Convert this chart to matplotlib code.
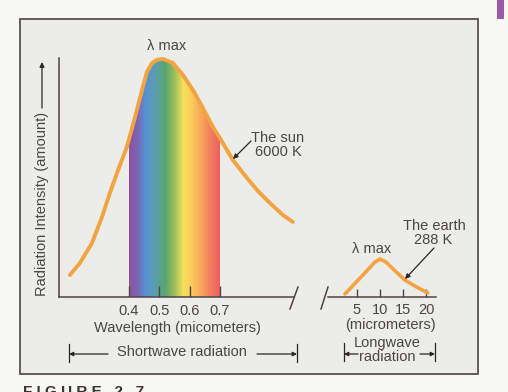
import numpy as np
import matplotlib
matplotlib.use("Agg")
import matplotlib.pyplot as plt
from matplotlib.colors import LinearSegmentedColormap
from matplotlib.lines import Line2D
from matplotlib.patches import Rectangle

plt.rcParams['font.family'] = ['Liberation Sans', 'DejaVu Sans']

# sun curve (wavelength in micrometers, relative intensity)
sun_wl = [0.205, 0.238, 0.278, 0.311, 0.337, 0.364, 0.393, 0.420, 0.443, 0.459,
          0.476, 0.492, 0.512, 0.545, 0.578, 0.611, 0.644, 0.677, 0.700, 0.743,
          0.776, 0.822, 0.865, 0.908, 0.941]
sun_int = [9.2, 14.2, 22.6, 33.5, 43.5, 53.1, 62.8, 75.3, 86.6, 94.1,
           97.9, 99.2, 99.6, 97.9, 92.9, 86.6, 79.1, 71.1, 66.5, 57.3,
           51.9, 44.8, 39.3, 34.3, 31.4]

# earth curve (micrometers)
earth_wl = [2.4, 6.1, 8.9, 10.0, 11.3, 13.3, 15.4, 18.3, 20.4]
earth_int = [1.3, 8.8, 14.6, 15.9, 14.6, 10.9, 7.1, 3.8, 1.7]

short_ticks = [0.4, 0.5, 0.6, 0.7]
short_labels = ['0.4', '0.5', '0.6', '0.7']
long_ticks = [5, 10, 15, 20]
long_labels = ['5', '10', '15', '20']
visible_band = (0.4, 0.7)

W, H = 508, 392
def fx(px):
    return px / W
def fy(py):
    return 1 - py / H

txt_col = '#4a4646'
line_col = '#4e4446'
curve_col = '#f2a443'

fig = plt.figure(figsize=(W / 100, H / 100), dpi=100, facecolor='#f7f8f5')

# frame of the figure
fig.add_artist(Rectangle((fx(20), fy(374)), fx(478) - fx(20), fy(19) - fy(374),
                         transform=fig.transFigure, facecolor='#ecece8',
                         edgecolor='#5a5054', lw=1.3, zorder=-10))
fig.add_artist(Rectangle((fx(497), fy(19)), fx(504) - fx(497), fy(0) - fy(19),
                         transform=fig.transFigure, facecolor='#9b5aa8', lw=0,
                         zorder=-10))

# main (shortwave) axes
ax = fig.add_axes([fx(59), fy(297), fx(294) - fx(59), fy(58) - fy(297)])
ax.set_facecolor('none')
ax.set_xlim(0.169, 0.9446)
ax.set_ylim(0, 100)

spec = LinearSegmentedColormap.from_list('spec', [
    (0.00, '#94509a'), (0.08, '#7e62b4'), (0.18, '#5a90d0'), (0.28, '#5a9eb4'),
    (0.40, '#5aa56e'), (0.50, '#9bbe5a'), (0.60, '#f5e15a'), (0.70, '#fac85a'),
    (0.80, '#f8a55a'), (0.90, '#f27d5f'), (1.00, '#ee5f5f')])
poly = ax.fill_between(sun_wl, sun_int, 0, color='none', lw=0)
grad = np.linspace(0, 1, 256).reshape(1, -1)
im = ax.imshow(grad, cmap=spec, aspect='auto', origin='lower',
               extent=[visible_band[0], visible_band[1], 0, 100], zorder=1)
im.set_clip_path(poly.get_paths()[0], transform=ax.transData)

ax.plot(sun_wl, sun_int, color=curve_col, lw=2.8, solid_capstyle='round',
        solid_joinstyle='round', clip_on=False, zorder=3)

for s in ['top', 'right']:
    ax.spines[s].set_visible(False)
for s in ['left', 'bottom']:
    ax.spines[s].set_color(line_col)
    ax.spines[s].set_linewidth(1.1)
ax.set_yticks([])
ax.set_xticks(short_ticks)
ax.set_xticklabels(short_labels)
ax.tick_params(axis='x', direction='in', length=8, width=1, color=line_col,
               labelsize=10.5, labelcolor=txt_col, pad=5)

# longwave axes
ax2 = fig.add_axes([fx(328), fy(297), fx(436) - fx(328), fy(58) - fy(297)])
ax2.set_facecolor('none')
ax2.set_xlim(-1.3, 22.17)
ax2.set_ylim(0, 100)
ax2.plot(earth_wl, earth_int, color=curve_col, lw=2.6, solid_capstyle='round',
         solid_joinstyle='round', clip_on=False, zorder=3)
for s in ['top', 'right', 'left']:
    ax2.spines[s].set_visible(False)
ax2.spines['bottom'].set_color(line_col)
ax2.spines['bottom'].set_linewidth(1.1)
ax2.set_yticks([])
ax2.set_xticks(long_ticks)
ax2.set_xticklabels(long_labels)
ax2.tick_params(axis='x', direction='in', length=6, width=1, color=line_col,
                labelsize=10.5, labelcolor=txt_col, pad=4)

# axis break marks
for x0, x1 in [(298, 290), (328, 321)]:
    fig.add_artist(Line2D([fx(x0), fx(x1)], [fy(287), fy(309)],
                          transform=fig.transFigure, color=line_col, lw=1.1))

def ftext(x, y, s, **kw):
    kw.setdefault('fontsize', 10.5)
    kw.setdefault('color', txt_col)
    kw.setdefault('ha', 'center')
    kw.setdefault('va', 'center')
    fig.text(fx(x), fy(y), s, **kw)

def farrow(x0, y0, x1, y1, style='-|>', lw=0.9, ms=8):
    fig.add_artist(matplotlib.patches.FancyArrowPatch(
        (fx(x0), fy(y0)), (fx(x1), fy(y1)), transform=fig.transFigure,
        arrowstyle=style, mutation_scale=ms, color='#2a2626', lw=lw,
        shrinkA=0, shrinkB=0))

# y label with arrow
ftext(42, 204, 'Radiation Intensity (amount)', rotation=90)
farrow(42, 108, 42, 62, ms=7)

ftext(167, 46, '\u03bb max')
ftext(278, 138, 'The sun')
ftext(278, 152, '6000 K')
farrow(251, 141, 233, 159, ms=7)

ftext(372, 249, '\u03bb max')
ftext(434, 226, 'The earth')
ftext(433, 240, '288 K')
farrow(434, 248, 405, 279, ms=7)

ftext(177, 328, 'Wavelength (micometers)')
ftext(390, 325, '(micrometers)')

# shortwave / longwave brackets
ftext(182, 352, 'Shortwave radiation')
farrow(108, 354, 69, 354, ms=6)
farrow(257, 354, 297, 354, ms=6)
for x in (69, 297):
    fig.add_artist(Line2D([fx(x), fx(x)], [fy(344), fy(362)],
                          transform=fig.transFigure, color='#2a2626', lw=0.9))
ftext(387, 343, 'Longwave')
ftext(387, 357, 'radiation')
farrow(358, 354, 344, 354, ms=6)
farrow(420, 354, 435, 354, ms=6)
for x in (344, 435):
    fig.add_artist(Line2D([fx(x), fx(x)], [fy(343), fy(361)],
                          transform=fig.transFigure, color='#2a2626', lw=0.9))

ftext(23, 385, 'F I G U R E   2 . 7', ha='left', va='top', fontsize=11,
      fontweight='bold', color='#3a3434')

fig.savefig('out.png', dpi=100, facecolor=fig.get_facecolor())
